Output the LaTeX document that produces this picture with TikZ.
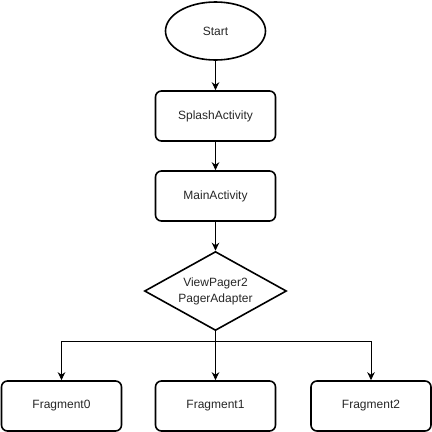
\documentclass[tikz,border=0pt]{standalone}
\usepackage{fontspec}
\setmainfont{Liberation Sans}
\usetikzlibrary{shapes.geometric,arrows.meta}
\begin{document}
\begin{tikzpicture}[x=1pt,y=-1pt,
  every node/.style={font=\fontsize{12}{14}\selectfont, text=black!85},
  box/.style={draw, line width=1.6pt, rounded corners=6pt, minimum width=120pt, minimum height=50pt, inner sep=0pt},
  oval/.style={draw, ellipse, line width=1.6pt, minimum width=100pt, minimum height=58pt, inner sep=0pt},
  dia/.style={draw, diamond, line width=1.6pt, minimum width=142pt, minimum height=79pt, inner sep=0pt, aspect=1.8},
  conn/.style={line width=1pt, -{Stealth[length=8pt,width=7.5pt,inset=2.5pt]}}
]
\useasboundingbox (0,0) rectangle (432,432);
\node[oval] (start) at (215.5,31) {Start};
\node[box] (splash) at (215.5,116) {SplashActivity};
\node[box] (main) at (215.5,196) {MainActivity};
\node[dia, text width=80pt, align=center, font=\fontsize{12}{16}\selectfont] (vp) at (215.5,291) {ViewPager2\\PagerAdapter};
\node[box] (f0) at (61.5,406) {Fragment0};
\node[box] (f1) at (215.5,406) {Fragment1};
\node[box] (f2) at (371,406) {Fragment2};
\draw[conn] (start) -- (splash);
\draw[conn] (splash) -- (main);
\draw[conn] (main) -- (vp);
\draw[conn] (vp) -- (f1);
\draw[conn] (vp.south) -- ++(0,10) -| (f0.north);
\draw[conn] (vp.south) -- ++(0,10) -| (f2.north);
\end{tikzpicture}
\end{document}
